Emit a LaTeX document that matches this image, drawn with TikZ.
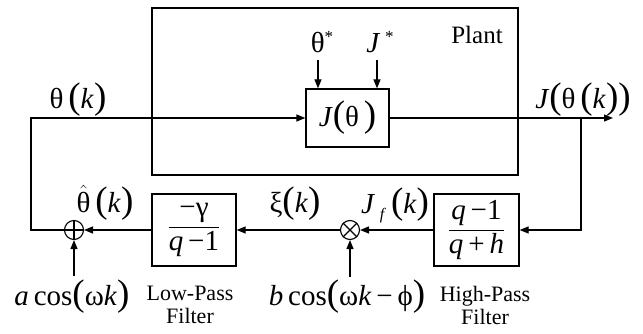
\documentclass[tikz,border=0pt]{standalone}
\usepackage{fontspec}
\setmainfont{Liberation Serif}
\usetikzlibrary{arrows.meta}
\newcommand\lpar{{\fontsize{37}{37}\selectfont(}}
\newcommand\rpar{{\fontsize{37}{37}\selectfont)}}
\begin{document}
\begin{tikzpicture}[x=1pt,y=-1pt,
  blk/.style={draw, line width=1.3pt, inner sep=0pt},
  conn/.style={line width=1.3pt},
  arr/.style={conn, -{Triangle[length=9pt,width=7pt]}},
  lbl/.style={font=\fontsize{29}{31}\selectfont, inner sep=0pt},
  small/.style={font=\fontsize{22}{23}\selectfont, align=center, inner sep=0pt},
  junc/.style={draw, circle, line width=1.1pt, minimum size=19pt, inner sep=0pt}]
\useasboundingbox (0,0) rectangle (643,334);
% boxes
\node[blk, minimum width=366pt, minimum height=167pt] (plant) at (335,91.5) {};
\node[blk, lbl, minimum width=83pt, minimum height=58pt] (jb) at (347.5,118) {\textit{J}\lpar θ\,\rpar};
\node[blk, lbl, minimum width=84pt, minimum height=72pt] (lp) at (194,230) {$\displaystyle\frac{\mbox{−γ}}{\mbox{\textit{q}\,−1}}$};
\node[blk, lbl, minimum width=85pt, minimum height=72pt] (hp) at (476.5,230) {$\displaystyle\frac{\mbox{\textit{q}\,−1}}{\mbox{\textit{q}\,+\,\textit{h}}}$};
\node[junc] (sum) at (74,230) {};
\node[junc] (mult) at (350,230) {};
\draw[conn] (sum.north) -- (sum.south) (sum.west) -- (sum.east);
\draw[conn] (mult.north west) -- (mult.south east) (mult.north east) -- (mult.south west);
% coordinates
\coordinate (cL1) at (31,118);
\coordinate (cL2) at (31,230);
\coordinate (cR1) at (581,118);
\coordinate (cR2) at (581,230);
\coordinate (out) at (613,118);
\coordinate (ts) at (318,60);
\coordinate (js) at (377,60);
\coordinate (ain) at (74,276);
\coordinate (bin) at (350,277);
% connectors
\draw[arr] (sum.west) -- (cL2) -- (cL1) -- (jb.west);
\draw[arr] (jb.east) -- (out);
\draw[arr] (cR1) -- (cR2) -- (hp.east);
\draw[arr] (hp.west) -- (mult.east);
\draw[arr] (mult.west) -- (lp.east);
\draw[arr] (lp.west) -- (sum.east);
\draw[arr] (ain) -- (sum.south);
\draw[arr] (bin) -- (mult.south);
\draw[arr] (ts) -- (ts |- jb.north);
\draw[arr] (js) -- (js |- jb.north);
% labels
\node[lbl] (lts) at (322,42) {θ\raisebox{10pt}{\fontsize{17}{17}\selectfont *}};
\node[lbl] (ljs) at (380,42) {\textit{J}\,\raisebox{10pt}{\fontsize{17}{17}\selectfont *}};
\node[small, font=\fontsize{25}{27}\selectfont] (lplant) at (477,35) {Plant};
\node[lbl] (lth) at (78,100) {θ\,\lpar\textit{k}\rpar};
\node[lbl] (lJ) at (583,100) {\textit{J}\lpar θ\,\lpar\textit{k}\rpar\rpar};
\node[lbl] (lthh) at (105,203) {$\hat{\mbox{θ}}$\,\lpar\textit{k}\rpar};
\node[lbl] (lxi) at (295,204) {ξ\lpar\textit{k}\rpar};
\node[lbl] (lJf) at (395,205) {\textit{J}\,\raisebox{-6pt}{\fontsize{16}{16}\selectfont\textit{f}}\,\lpar\textit{k}\rpar};
\node[lbl] (la) at (72,297) {\textit{a}\,cos\lpar ω\textit{k}\rpar};
\node[small] (llp) at (190,305) {Low-Pass\\Filter};
\node[lbl] (lb) at (347,297) {\textit{b}\,cos\lpar ω\textit{k}\,−\,ϕ\rpar};
\node[small] (lhp) at (485,305) {High-Pass\\Filter};
\end{tikzpicture}
\end{document}
